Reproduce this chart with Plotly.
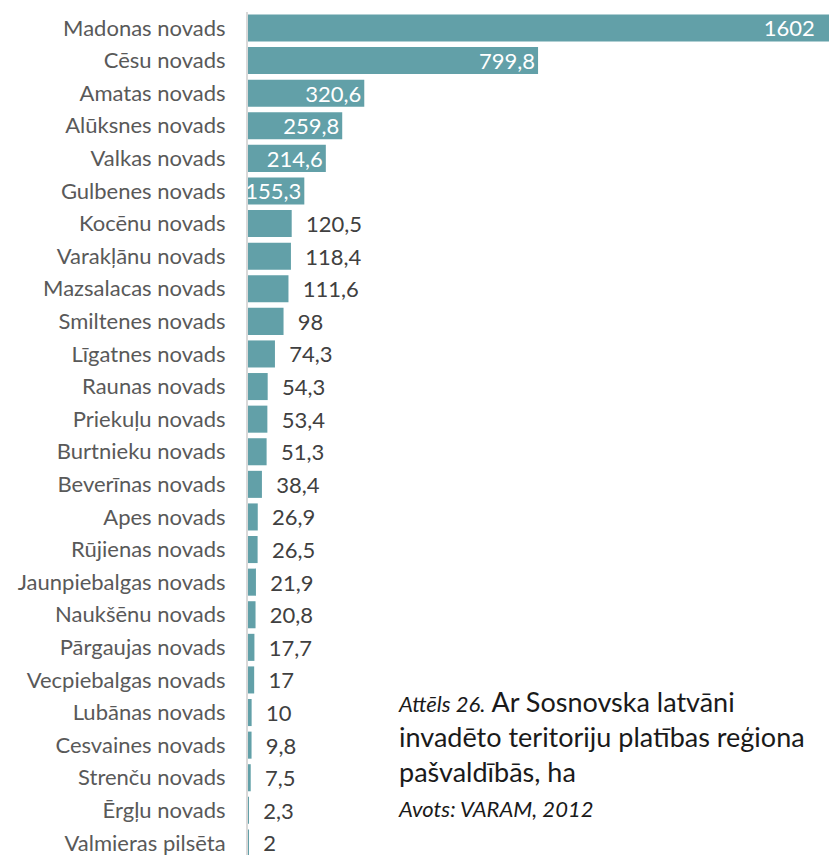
import plotly.graph_objects as go

categories = ["Madonas novads", "Cēsu novads", "Amatas novads", "Alūksnes novads", "Valkas novads",
              "Gulbenes novads", "Kocēnu novads", "Varakļānu novads", "Mazsalacas novads", "Smiltenes novads",
              "Līgatnes novads", "Raunas novads", "Priekuļu novads", "Burtnieku novads", "Beverīnas novads",
              "Apes novads", "Rūjienas novads", "Jaunpiebalgas novads", "Naukšēnu novads", "Pārgaujas novads",
              "Vecpiebalgas novads", "Lubānas novads", "Cesvaines novads", "Strenču novads", "Ērgļu novads",
              "Valmieras pilsēta"]
values = [1602, 799.8, 320.6, 259.8, 214.6, 155.3, 120.5, 118.4, 111.6, 98, 74.3, 54.3, 53.4, 51.3, 38.4,
          26.9, 26.5, 21.9, 20.8, 17.7, 17, 10, 9.8, 7.5, 2.3, 2]
labels = ["1602", "799,8", "320,6", "259,8", "214,6", "155,3", "120,5", "118,4", "111,6", "98", "74,3",
          "54,3", "53,4", "51,3", "38,4", "26,9", "26,5", "21,9", "20,8", "17,7", "17", "10", "9,8", "7,5",
          "2,3", "2"]

n_inside = 6
texts = [l + "  " if i == 0 else (l if i < n_inside else "  " + l) for i, l in enumerate(labels)]
positions = ["inside" if i < n_inside else "outside" for i in range(len(values))]

FONT = "Lato"
fig = go.Figure(go.Bar(
    x=values, y=categories, orientation="h",
    marker=dict(color="#62a0a8", line=dict(width=0)),
    text=texts, textposition=positions, insidetextanchor="end",
    insidetextfont=dict(color="white", size=22, family=FONT),
    outsidetextfont=dict(color="#404040", size=22, family=FONT),
    textangle=0, constraintext="none",
    cliponaxis=False,
))

fig.update_layout(
    width=829, height=855,
    margin=dict(l=248, r=0, t=12, b=0),
    plot_bgcolor="white", paper_bgcolor="white",
    bargap=0.17,
    showlegend=False,
    font=dict(family=FONT),
    xaxis=dict(range=[0, 1602], visible=False, showgrid=False, zeroline=False),
    yaxis=dict(range=[25.37, -0.49], showline=True, linecolor="#d9d9d9", linewidth=2,
               ticks="", ticklabelstandoff=16, showgrid=False,
               tickfont=dict(size=22, color="#595959", family=FONT)),
)

fig.add_annotation(
    xref="paper", yref="paper", x=(396 - 248) / 581, y=(855 - 683) / 843,
    xanchor="left", yanchor="top", align="left", showarrow=False,
    text=("<i><span style='font-size:22px'>Attēls 26.</span></i> Ar Sosnovska latvāni<br>"
          "invadēto teritoriju platības reģiona<br>"
          "pašvaldībās, ha<br>"
          "<i><span style='font-size:22px'>Avots: VARAM, 2012</span></i>"),
    font=dict(size=27, color="#1a1a1a", family=FONT),
)

fig.write_html("out.html", config={"displayModeBar": False},
               post_script="document.body.style.margin='0';document.body.style.overflow='hidden';")
